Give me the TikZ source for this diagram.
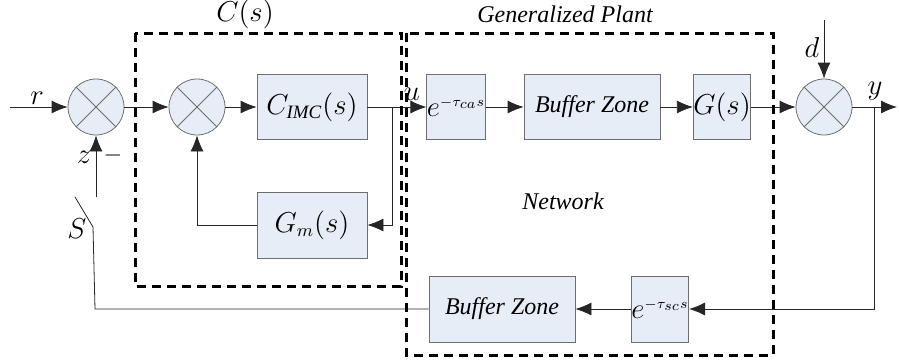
\documentclass[tikz,border=0pt]{standalone}
\usepackage{fontspec}
\setmainfont{Liberation Serif}
\usetikzlibrary{arrows.meta, positioning}
\definecolor{boxfill}{RGB}{230,237,247}
\definecolor{boxline}{RGB}{110,110,110}

\begin{document}
\begin{tikzpicture}[x=0.5pt, y=-0.5pt,
    font=\fontsize{12}{14}\selectfont\itshape,
    block/.style={draw=boxline, fill=boxfill, rectangle, minimum height=32.5pt, inner sep=0pt},
    summer/.style={draw=boxline, fill=boxfill, circle, minimum size=28pt, inner sep=0pt},
    mathlbl/.style={font=\fontsize{13.5}{15}\selectfont},
    arr/.style={-{Latex[length=8pt, width=6.5pt]}, black!85},
    wire/.style={black!85},
    dashbox/.style={line width=1.5pt, dash pattern=on 4.5pt off 3pt}]
        \useasboundingbox (0,0) rectangle (899,360);

        % Controller C(s)
        \node[summer] (sumA) at (96,107) {};
        \node[summer] (sumB) at (197,107) {};
        \node[block, mathlbl, minimum width=55pt] (cimc) at (312,107) {$C_{\mathit{IMC}}(s)$};
        \node[block, mathlbl, minimum width=55pt, minimum height=33pt] (gm) at (312,225) {$G_m(s)$};

        % Generalized plant
        \node[block, mathlbl, minimum width=28pt] (eca) at (456,107) {$e^{\scriptscriptstyle -\tau_{ca}s}$};
        \node[block, minimum width=68pt] (bzA) at (592,107) {Buffer Zone};
        \node[block, mathlbl, minimum width=28.5pt] (gs) at (722,107) {$G(s)$};
        \node[summer] (sumC) at (824,107) {};
        \node[block, mathlbl, minimum width=28pt, minimum height=33pt] (esc) at (660,309) {$e^{\scriptscriptstyle -\tau_{sc}s}$};
        \node[block, minimum width=73pt, minimum height=33pt] (bzB) at (502,309) {Buffer Zone};

        % Crosses in the summing junctions
        \foreach \s in {sumA, sumB, sumC} {
            \draw[boxline] (\s.north west) -- (\s.south east);
            \draw[boxline] (\s.north east) -- (\s.south west);
        }

        % Free ends
        \coordinate (rin) at (10,107);
        \coordinate (din) at (824,20);
        \coordinate (yout) at (897,107);
        \coordinate (brU) at (392,107);
        \coordinate (brY) at (874,107);
        \coordinate (zin) at (96,197);
        \coordinate (swB) at (95,309);
        \coordinate (swP) at (93,227);
        \coordinate (swT) at (75,197);

        % Forward path
        \draw[arr] (rin) -- (sumA);
        \draw[arr] (sumA) -- (sumB);
        \draw[arr] (sumB) -- (cimc);
        \draw[arr] (cimc) -- (eca);
        \draw[arr] (eca) -- (bzA);
        \draw[arr] (bzA) -- (gs);
        \draw[arr] (gs) -- (sumC);
        \draw[arr] (din) -- (sumC);
        \draw[arr] (sumC) -- (yout);

        % Inner loop
        \draw[arr] (brU) |- (gm.east);
        \draw[arr] (gm.west) -| (sumB.south);

        % Feedback through the network
        \draw[arr] (brY) |- (esc.east);
        \draw[arr] (esc) -- (bzB);
        \draw[wire] (bzB.west) -- (swB) -- (swP) -- (swT);
        \draw[arr] (zin) -- (sumA.south);

        % Labels
        \node[mathlbl] (lr) at (37,98) {$r$};
        \node[mathlbl] (lu) at (412,94) {$u$};
        \node[mathlbl] (ld) at (812,47) {$d$};
        \node[mathlbl] (ly) at (875,91) {$y$};
        \node[mathlbl] (lz) at (84,157) {$z$};
        \node (lminus) at (113,155) {$-$};
        \node[mathlbl] (lS) at (77,229) {$S$};

        % Dashed boundaries
        \draw[dashbox] (135,33) rectangle (401,286);
        \draw[dashbox] (406,33) rectangle (773,355);
        \node[mathlbl] (lcs) at (245,14) {$C(s)$};
        \node (lgp) at (565,14) {Generalized Plant};
        \node (lnet) at (563,201) {Network};
    \end{tikzpicture}
\end{document}
